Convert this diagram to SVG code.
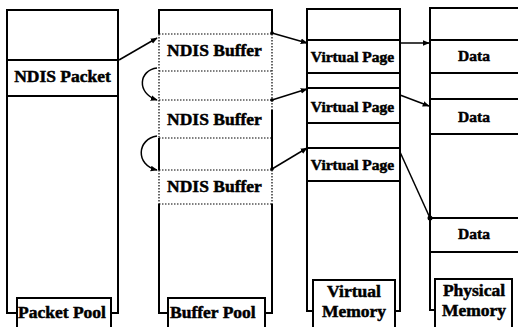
<svg xmlns="http://www.w3.org/2000/svg" width="518" height="327" viewBox="0 0 518 327">
<defs>
<style>
.s{fill:none;stroke:#000;stroke-width:2}
.r{stroke:#000;stroke-width:1.8}
.d{stroke:#000;stroke-width:1.2;stroke-dasharray:1.5 1.5}
.t{font-family:"Liberation Serif","Times New Roman",serif;font-weight:bold;fill:#000;stroke:#000;stroke-width:0.5}
.big{font-size:17.5px}
.sm{font-size:15.5px}
.lb{fill:#fff;stroke:#000;stroke-width:2}
.c{fill:none;stroke:#000;stroke-width:1.5}
</style>
<marker id="ah" viewBox="0 0 10 10" refX="9" refY="5" markerWidth="7" markerHeight="7" orient="auto" markerUnits="userSpaceOnUse">
<path d="M0,1 L10,5 L0,9 z" fill="#000"/>
</marker>
</defs>
<rect width="518" height="327" fill="#fff"/>

<g id="packet-pool">
<path class="s" d="M17,313 H7 V10 H118 V313 H111"/>
<line class="r" x1="7" y1="60" x2="118" y2="60"/>
<line class="r" x1="7" y1="96" x2="118" y2="96"/>
<text class="t big" x="62.5" y="82" text-anchor="middle">NDIS Packet</text>
<rect class="lb" x="17" y="298" width="94" height="32"/>
<text class="t big" x="62" y="318" text-anchor="middle">Packet Pool</text>
</g>

<g id="buffer-pool">
<path class="s" d="M159,34 V10 H272 V34"/>
<path class="s" d="M168,313 H159 V204"/>
<path class="s" d="M159,138 V170"/>
<path class="s" d="M272,110 V170"/>
<path class="s" d="M272,204 V313 H265"/>
<line class="d" x1="159" y1="34" x2="159" y2="138"/>
<line class="d" x1="159" y1="170" x2="159" y2="204"/>
<line class="d" x1="272" y1="34" x2="272" y2="110"/>
<line class="d" x1="272" y1="170" x2="272" y2="204"/>
<line class="d" x1="159" y1="34" x2="272" y2="34"/>
<line class="d" x1="159" y1="71" x2="272" y2="71"/>
<line class="d" x1="159" y1="100" x2="272" y2="100"/>
<line class="d" x1="159" y1="138" x2="272" y2="138"/>
<line class="d" x1="159" y1="170" x2="272" y2="170"/>
<line class="d" x1="159" y1="204" x2="272" y2="204"/>
<text class="t big" x="214.5" y="56" text-anchor="middle">NDIS Buffer</text>
<text class="t big" x="214.5" y="125" text-anchor="middle">NDIS Buffer</text>
<text class="t big" x="214.5" y="192" text-anchor="middle">NDIS Buffer</text>
<rect class="lb" x="168" y="298" width="97" height="32"/>
<text class="t big" x="170" y="318">Buffer Pool</text>
</g>

<g id="virtual-memory">
<path class="s" d="M313,311 H307 V9 H400 V311 H395"/>
<line class="r" x1="307" y1="40" x2="400" y2="40"/>
<line class="r" x1="307" y1="73" x2="400" y2="73"/>
<line class="r" x1="307" y1="88" x2="400" y2="88"/>
<line class="r" x1="307" y1="123" x2="400" y2="123"/>
<line class="r" x1="307" y1="148" x2="400" y2="148"/>
<line class="r" x1="307" y1="181" x2="400" y2="181"/>
<text class="t sm" x="352.5" y="62" text-anchor="middle">Virtual Page</text>
<text class="t sm" x="352.5" y="112" text-anchor="middle">Virtual Page</text>
<text class="t sm" x="352.5" y="170" text-anchor="middle">Virtual Page</text>
<rect class="lb" x="313" y="280" width="82" height="50"/>
<text class="t big" x="354" y="297" text-anchor="middle">Virtual</text>
<text class="t big" x="354" y="317" text-anchor="middle">Memory</text>
</g>

<g id="physical-memory">
<path class="s" d="M435,310 H430 V8 H520"/>
<line class="r" x1="430" y1="40" x2="518" y2="40"/>
<line class="r" x1="430" y1="73" x2="518" y2="73"/>
<line class="r" x1="430" y1="99" x2="518" y2="99"/>
<line class="r" x1="430" y1="134" x2="518" y2="134"/>
<line class="r" x1="430" y1="218" x2="518" y2="218"/>
<line class="r" x1="430" y1="252" x2="518" y2="252"/>
<text class="t sm" x="474" y="61" text-anchor="middle">Data</text>
<text class="t sm" x="474" y="122" text-anchor="middle">Data</text>
<text class="t sm" x="474" y="239" text-anchor="middle">Data</text>
<rect class="lb" x="435" y="279" width="77" height="51"/>
<text class="t big" x="474" y="296" text-anchor="middle">Physical</text>
<text class="t big" x="474" y="316" text-anchor="middle">Memory</text>
</g>

<g id="connectors">
<line class="c" x1="119" y1="60" x2="157" y2="38" marker-end="url(#ah)"/>
<path class="c" d="M157,68 C139,70 136,93 157,100" marker-end="url(#ah)"/>
<path class="c" d="M157,136 C137,139 135,165 157,170" marker-end="url(#ah)"/>
<circle cx="272" cy="33" r="1.8"/>
<line class="c" x1="272" y1="33" x2="307" y2="43" marker-end="url(#ah)"/>
<circle cx="272" cy="100" r="1.8"/>
<line class="c" x1="272" y1="100" x2="307" y2="89" marker-end="url(#ah)"/>
<circle cx="272" cy="169" r="1.8"/>
<line class="c" x1="272" y1="169" x2="307" y2="148" marker-end="url(#ah)"/>
<line class="c" x1="400" y1="43" x2="429" y2="43" marker-end="url(#ah)"/>
<line class="c" x1="400" y1="95" x2="429" y2="106" marker-end="url(#ah)"/>
<line class="c" x1="400" y1="152" x2="430" y2="218"/>
<circle cx="430" cy="218" r="2.5"/>
</g>
</svg>
